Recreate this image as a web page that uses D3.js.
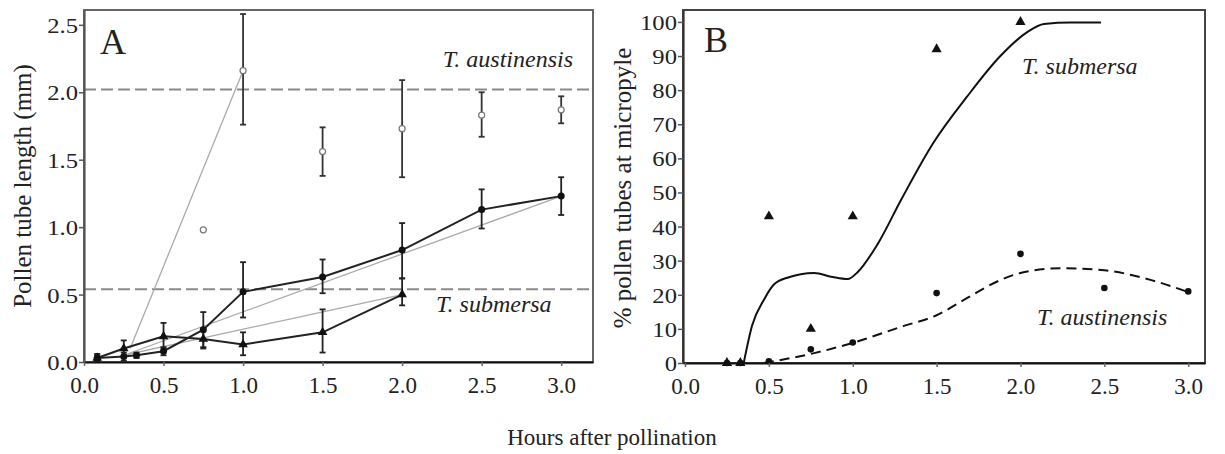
<!DOCTYPE html>
<html>
<head>
<meta charset="utf-8">
<script src="https://cdn.jsdelivr.net/npm/d3@7"></script>
<style>
  html, body { margin: 0; padding: 0; background: #fff; }
  svg { display: block; }
  text { font-family: "Liberation Serif", "DejaVu Serif", serif; fill: #222; }
</style>
</head>
<body>
<svg id="chart" width="1225" height="454"></svg>
<script>
// ---------- Panel A data ----------
const ticksAX = [0, 0.5, 1.0, 1.5, 2.0, 2.5, 3.0];
const ticksAY = [0, 0.5, 1.0, 1.5, 2.0, 2.5];

// T. austinensis (open circles)
const austX    = [0.75, 1.0, 1.5, 2.0, 2.5, 3.0];
const austMean = [0.98, 2.16, 1.56, 1.73, 1.83, 1.87];
const austLo   = [null, 1.76, 1.38, 1.37, 1.67, 1.77];
const austHi   = [null, 2.58, 1.74, 2.09, 2.00, 1.97];

// T. submersa series 1 (filled circles)
const sub1X    = [0.083, 0.25, 0.33, 0.5, 0.75, 1.0, 1.5, 2.0, 2.5, 3.0];
const sub1Mean = [0.03, 0.04, 0.05, 0.08, 0.24, 0.52, 0.63, 0.83, 1.13, 1.23];
const sub1Lo   = [0.01, 0.01, 0.03, 0.05, 0.10, 0.33, 0.51, 0.62, 0.99, 1.09];
const sub1Hi   = [0.05, 0.07, 0.07, 0.11, 0.37, 0.74, 0.76, 1.03, 1.28, 1.37];

// T. submersa series 2 (filled triangles)
const sub2X    = [0.083, 0.25, 0.5, 0.75, 1.0, 1.5, 2.0];
const sub2Mean = [0.03, 0.10, 0.19, 0.17, 0.13, 0.22, 0.50];
const sub2Lo   = [0.01, 0.04, 0.10, 0.11, 0.05, 0.07, 0.42];
const sub2Hi   = [0.06, 0.16, 0.29, 0.25, 0.22, 0.39, 0.62];

// thin grey fit lines
const fitSteepX = [0.29, 1.0],  fitSteepY = [0.10, 2.16];
const fitUpX    = [0.25, 3.0],  fitUpY    = [0.05, 1.23];
const fitLowX   = [0.25, 2.0],  fitLowY   = [0.05, 0.50];

// dashed reference levels
const refLevelsA = [2.02, 0.54];

// ---------- Panel B data ----------
const ticksBX = [0, 0.5, 1.0, 1.5, 2.0, 2.5, 3.0];
const ticksBY = [0, 10, 20, 30, 40, 50, 60, 70, 80, 90, 100];

const subBX = [0.25, 0.33, 0.5, 0.75, 1.0, 1.5, 2.0];
const subBY = [0, 0, 43, 10, 43, 92, 100];
const austBX = [0.25, 0.33, 0.5, 0.75, 1.0, 1.5, 2.0, 2.5, 3.0];
const austBY = [0, 0, 0.5, 4, 6, 20.5, 32, 22, 21];

const subCurveX = [0.35, 0.40, 0.47, 0.53, 0.61, 0.77, 0.88, 0.97, 1.03, 1.15, 1.29, 1.48, 1.68, 1.88, 2.04, 2.14, 2.30, 2.48];
const subCurveY = [0, 11, 18.5, 23, 25, 26.4, 25.2, 24.6, 26.7, 35, 48, 64.5, 78, 90, 97, 99.4, 99.8, 99.8];
const austCurveX = [0.47, 0.77, 1.0, 1.3, 1.5, 1.68, 1.88, 2.0, 2.24, 2.48, 2.78, 3.0];
const austCurveY = [0, 2.9, 5.9, 10.8, 14, 19, 24.3, 26.4, 27.8, 27.3, 24.3, 20.8];

// ---------- Drawing ----------
const svg = d3.select("#chart");
svg.append("rect").attr("width", 1225).attr("height", 454).attr("fill", "#fff");

const zip = (xs, ys) => xs.map((x, i) => [x, ys[i]]);

// Panel A scales
const xA = d3.scaleLinear().domain([0, 3.2]).range([84, 593]);
const yA = d3.scaleLinear().domain([0, 2.61]).range([362, 10]);

const gA = svg.append("g");
// frame
gA.append("rect").attr("x", xA.range()[0]).attr("y", yA.range()[1])
  .attr("width", xA.range()[1] - xA.range()[0]).attr("height", yA.range()[0] - yA.range()[1])
  .attr("fill", "none").attr("stroke", "#666").attr("stroke-width", 2);

// dashed ref lines
gA.selectAll(".ref").data(refLevelsA).join("line")
  .attr("x1", xA.range()[0]).attr("x2", xA.range()[1])
  .attr("y1", d => yA(d)).attr("y2", d => yA(d))
  .attr("stroke", "#8a8a8a").attr("stroke-width", 2).attr("stroke-dasharray", "12,5");

// grey fit lines
const lineA = d3.line().x(d => xA(d[0])).y(d => yA(d[1]));
[[fitSteepX, fitSteepY], [fitUpX, fitUpY], [fitLowX, fitLowY]].forEach(([xs, ys]) => {
  gA.append("path").attr("d", lineA(zip(xs, ys)))
    .attr("fill", "none").attr("stroke", "#aaa").attr("stroke-width", 1.3);
});

// series lines
[[sub1X, sub1Mean], [sub2X, sub2Mean]].forEach(([xs, ys]) => {
  gA.append("path").attr("d", lineA(zip(xs, ys)))
    .attr("fill", "none").attr("stroke", "#222").attr("stroke-width", 2);
});

// error bars
function errBars(g, xs, lo, hi, color) {
  xs.forEach((x, i) => {
    if (lo[i] == null) return;
    const px = xA(x);
    g.append("line").attr("x1", px).attr("x2", px).attr("y1", yA(lo[i])).attr("y2", yA(hi[i]))
      .attr("stroke", color).attr("stroke-width", 1.8);
    [lo[i], hi[i]].forEach(v => {
      g.append("line").attr("x1", px - 3).attr("x2", px + 3).attr("y1", yA(v)).attr("y2", yA(v))
        .attr("stroke", color).attr("stroke-width", 1.8);
    });
  });
}
errBars(gA, austX, austLo, austHi, "#333");
errBars(gA, sub1X, sub1Lo, sub1Hi, "#222");
errBars(gA, sub2X, sub2Lo, sub2Hi, "#222");

// markers
gA.selectAll(".aust").data(zip(austX, austMean)).join("circle")
  .attr("cx", d => xA(d[0])).attr("cy", d => yA(d[1])).attr("r", 3)
  .attr("fill", "#fff").attr("stroke", "#777").attr("stroke-width", 1.2);
gA.selectAll(".s1").data(zip(sub1X, sub1Mean)).join("circle")
  .attr("cx", d => xA(d[0])).attr("cy", d => yA(d[1])).attr("r", 3.5).attr("fill", "#111");
const tri = d3.symbol().type(d3.symbolTriangle).size(40);
gA.selectAll(".s2").data(zip(sub2X, sub2Mean)).join("path")
  .attr("d", tri).attr("transform", d => `translate(${xA(d[0])},${yA(d[1])})`).attr("fill", "#111");

// axes A
const axAX = gA.append("g").attr("transform", `translate(0,${yA.range()[0]})`)
  .call(d3.axisBottom(xA).tickValues(ticksAX).tickFormat(d3.format(".1f")).tickSize(4).tickSizeOuter(0));
const axAY = gA.append("g").attr("transform", `translate(${xA.range()[0]},0)`)
  .call(d3.axisLeft(yA).tickValues(ticksAY).tickFormat(d3.format(".1f")).tickSize(5).tickSizeOuter(0));

// Panel B scales
const xB = d3.scaleLinear().domain([-0.012, 3.1]).range([683, 1205]);
const yB = d3.scaleLinear().domain([0, 103.5]).range([363, 10]);
const gB = svg.append("g");
gB.append("rect").attr("x", xB.range()[0]).attr("y", yB.range()[1])
  .attr("width", xB.range()[1] - xB.range()[0]).attr("height", yB.range()[0] - yB.range()[1])
  .attr("fill", "none").attr("stroke", "#444").attr("stroke-width", 2);

const lineB = d3.line().x(d => xB(d[0])).y(d => yB(d[1])).curve(d3.curveMonotoneX);
gB.append("path").attr("d", lineB(zip(subCurveX, subCurveY)))
  .attr("fill", "none").attr("stroke", "#111").attr("stroke-width", 2);
gB.append("path").attr("d", lineB(zip(austCurveX, austCurveY)))
  .attr("fill", "none").attr("stroke", "#111").attr("stroke-width", 2).attr("stroke-dasharray", "10,6");

gB.selectAll(".bt").data(zip(subBX, subBY)).join("path")
  .attr("d", d3.symbol().type(d3.symbolTriangle).size(45))
  .attr("transform", d => `translate(${xB(d[0])},${yB(d[1])})`).attr("fill", "#111");
gB.selectAll(".bc").data(zip(austBX, austBY)).join("circle")
  .attr("cx", d => xB(d[0])).attr("cy", d => yB(d[1])).attr("r", 3.3).attr("fill", "#111");

const axBX = gB.append("g").attr("transform", `translate(0,${yB.range()[0]})`)
  .call(d3.axisBottom(xB).tickValues(ticksBX).tickFormat(d3.format(".1f")).tickSize(4).tickSizeOuter(0));
const axBY = gB.append("g").attr("transform", `translate(${xB.range()[0]},0)`)
  .call(d3.axisLeft(yB).tickValues(ticksBY).tickFormat(d3.format("d")).tickSize(5).tickSizeOuter(0));

// style axes
[axAX, axBX].forEach(ax => {
  ax.select(".domain").attr("stroke", "#111").attr("stroke-width", 2.2);
  ax.selectAll(".tick line").attr("stroke", "#666").attr("stroke-width", 1.5);
  ax.selectAll(".tick text").attr("y", 31).attr("dy", 0)
    .attr("font-size", 23).attr("fill", "#333")
    .style("font-family", "'Liberation Serif', serif");
});
[axAY, axBY].forEach(ax => {
  ax.select(".domain").attr("stroke", "#333").attr("stroke-width", 2.2);
  ax.selectAll(".tick line").attr("stroke", "#555").attr("stroke-width", 1.5);
  ax.selectAll(".tick text").attr("x", null).attr("dy", "0.34em")
    .attr("font-size", 22).attr("fill", "#333")
    .attr("transform", "translate(-6,0) scale(1.12,1)")
    .style("font-family", "'Liberation Serif', serif");
});
axAY.select(".domain").attr("stroke", "#555");

// Text labels
svg.append("text").attr("x", 100).attr("y", 54).attr("font-size", 36).text("A");
svg.append("text").attr("x", 704).attr("y", 52).attr("font-size", 36).text("B");

const ital = (x, y, t, anchor) => svg.append("text").attr("x", x).attr("y", y)
  .attr("font-size", 24).attr("font-style", "italic").attr("text-anchor", anchor || "start").text(t);
ital(573, 67, "T. austinensis", "end");
ital(436, 312, "T. submersa");
ital(1022, 74, "T. submersa");
ital(1037, 325, "T. austinensis");

svg.append("text").attr("transform", "translate(31,186) rotate(-90)")
  .attr("text-anchor", "middle").attr("font-size", 25).text("Pollen tube length (mm)");
svg.append("text").attr("transform", "translate(631,188) rotate(-90)")
  .attr("text-anchor", "middle").attr("font-size", 25).text("% pollen tubes at micropyle");
svg.append("text").attr("x", 612).attr("y", 445)
  .attr("text-anchor", "middle").attr("font-size", 23).text("Hours after pollination");
</script>
</body>
</html>
